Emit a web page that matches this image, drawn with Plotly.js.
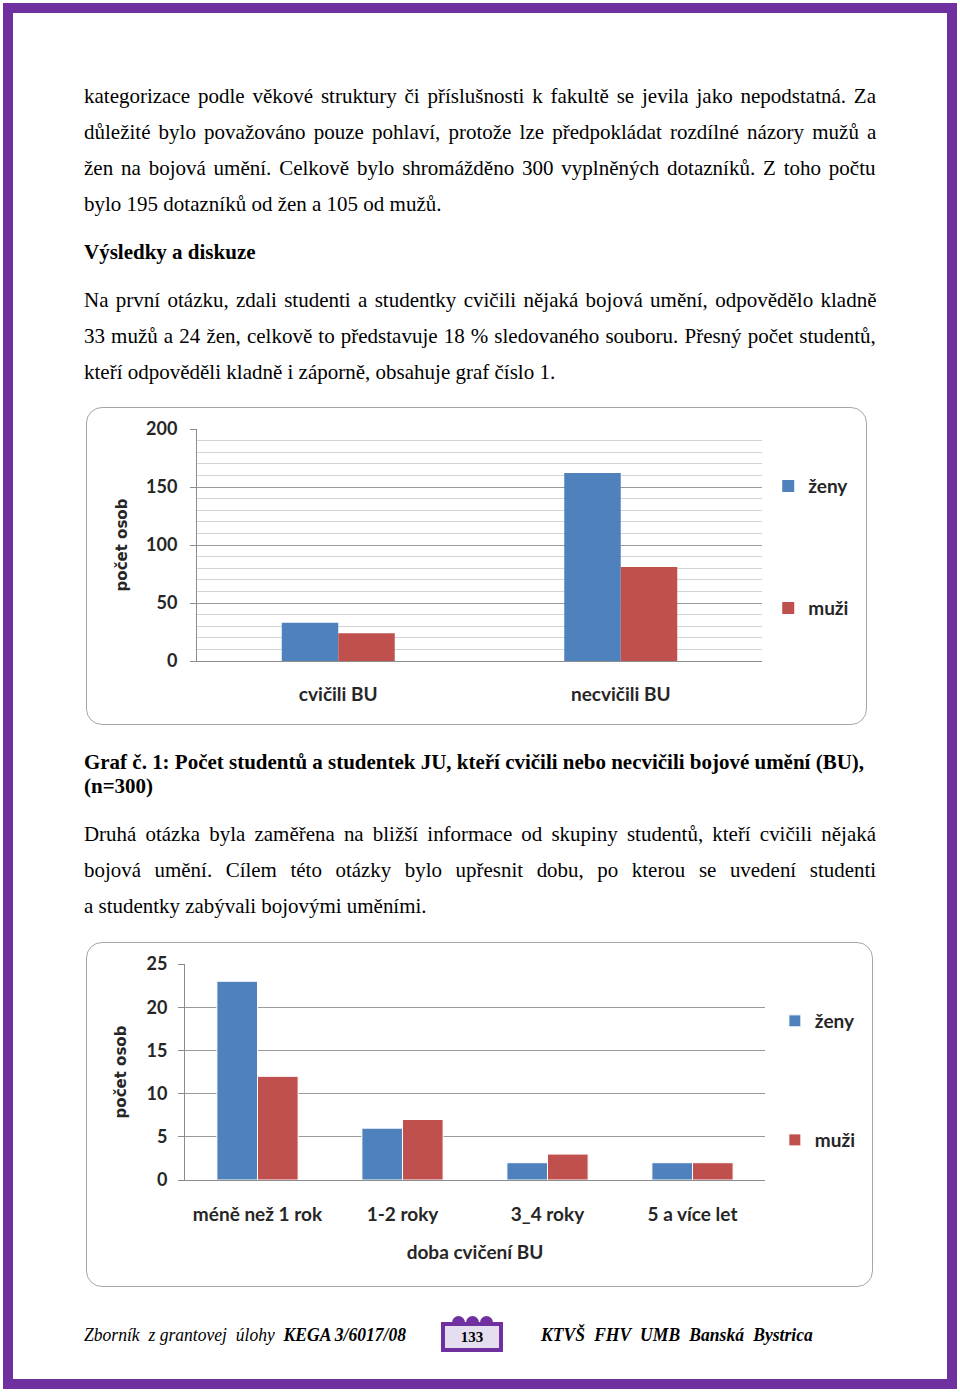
<!DOCTYPE html>
<html>
<head>
<meta charset="utf-8">
<script src="https://cdn.plot.ly/plotly-3.0.1.min.js"></script>
<style>
body { margin: 0; width: 960px; height: 1396px; position: relative; background: #fff; overflow: hidden; }
.frame { position: absolute; left: 3px; top: 3px; width: 954px; height: 1386px; box-sizing: border-box; border: 10px solid #7030a0; }
.ln { position: absolute; left: 84px; white-space: nowrap; font-family: "Liberation Serif", serif; font-size: 21px; line-height: 36px; height: 36px; color: #000; transform-origin: 0 50%; }
.b { font-weight: bold; }
.i { font-style: italic; }
.box { position: absolute; border: 1.5px solid #a6a6a6; border-radius: 16px; box-sizing: border-box; }
.plot { position: absolute; }
.pg { position: absolute; left: 441px; top: 1322px; width: 62px; height: 30px; box-sizing: border-box; border: 4px solid #7030a0; background: #e4def0; font: bold 15px "Liberation Serif", serif; text-align: center; line-height: 22px; }
.bump { position: absolute; top: 1316px; width: 13px; height: 13px; border-radius: 50%; background: #7030a0; }
</style>
</head>
<body>
<div class="frame"></div>

<div class="ln" style="top:78px" data-w="792" data-j="1">kategorizace podle věkové struktury či příslušnosti k fakultě se jevila jako nepodstatná. Za</div>
<div class="ln" style="top:114px" data-w="792" data-j="1">důležité bylo považováno pouze pohlaví, protože lze předpokládat rozdílné názory mužů a</div>
<div class="ln" style="top:150px" data-w="792" data-j="1">žen na bojová umění. Celkově bylo shromážděno 300 vyplněných dotazníků. Z toho počtu</div>
<div class="ln" style="top:186px">bylo 195 dotazníků od žen a 105 od mužů.</div>
<div class="ln b" style="top:234px">Výsledky a diskuze</div>
<div class="ln" style="top:282px" data-w="792" data-j="1">Na první otázku, zdali studenti a studentky cvičili nějaká bojová umění, odpovědělo kladně</div>
<div class="ln" style="top:318px" data-w="792" data-j="1">33 mužů a 24 žen, celkově to představuje 18 % sledovaného souboru. Přesný počet studentů,</div>
<div class="ln" style="top:354px">kteří odpověděli kladně i záporně, obsahuje graf číslo 1.</div>

<div class="box" style="left:86px;top:407px;width:781px;height:318px"></div>
<div id="chart1" class="plot" style="left:86px;top:407px"></div>

<div class="ln b" id="cap1" style="top:744px">Graf č. 1: Počet studentů a studentek JU, kteří cvičili nebo necvičili bojové umění (BU),</div>
<div class="ln b" id="cap2" style="top:768px">(n=300)</div>

<div class="ln" id="p2a" style="top:816px">Druhá otázka byla zaměřena na bližší informace od skupiny studentů, kteří cvičili nějaká</div>
<div class="ln" id="p2b" style="top:852px">bojová umění. Cílem této otázky bylo upřesnit dobu, po kterou se uvedení studenti</div>
<div class="ln" id="p2c" style="top:888px">a studentky zabývali bojovými uměními.</div>

<div class="box" style="left:86px;top:942px;width:787px;height:345px"></div>
<div id="chart2" class="plot" style="left:86px;top:942px"></div>

<div class="ln i" id="foot1" style="top:1317px;font-size:18px">Zborník&nbsp; z grantovej&nbsp; úlohy&nbsp; <b>KEGA 3/6017/08</b></div>
<div class="bump" style="left:452px"></div>
<div class="bump" style="left:466px"></div>
<div class="bump" style="left:480px"></div>
<div class="pg">133</div>
<div class="ln i b" id="foot2" style="top:1317px;left:541px;font-size:18px">KTVŠ FHV UMB Banská Bystrica</div>

<script>
// data
var cats1 = ['cvičili BU', 'necvičili BU'];
var zeny1 = [33, 162];
var muzi1 = [24, 81];
var ticks1 = [0, 50, 100, 150, 200];

var cats2 = ['méně než 1 rok', '1-2 roky', '3_4 roky', '5 a více let'];
var zeny2 = [23, 6, 2, 2];
var muzi2 = [12, 7, 3, 2];
var ticks2 = [0, 5, 10, 15, 20, 25];

var blue = '#4f81bd';
var red = '#c0504d';

// text lines: justify with word spacing, squeeze with scaleX where needed
function natural(el) {
  el.style.wordSpacing = '0px';
  el.style.transform = 'none';
  return el.offsetWidth;
}
function setLine(el, width, scale, justify) {
  var w = natural(el);
  var gaps = (el.textContent.match(/ /g) || []).length;
  if (justify && gaps) el.style.wordSpacing = ((width / scale - w) / gaps) + 'px';
  if (scale !== 1) el.style.transform = 'scaleX(' + scale + ')';
}
document.querySelectorAll('.ln[data-j]').forEach(function (el) {
  setLine(el, +el.dataset.w, 1, true);
});
var c1 = document.getElementById('cap1');
var sCap = 780 / natural(c1);
setLine(c1, 780, sCap, false);
setLine(document.getElementById('cap2'), 0, sCap, false);

var p2c = document.getElementById('p2c');
var sP2 = 343 / natural(p2c);
setLine(p2c, 343, sP2, false);
setLine(document.getElementById('p2a'), 792, sP2, true);
setLine(document.getElementById('p2b'), 792, sP2, true);

var f1 = document.getElementById('foot1');
var sF = 322 / natural(f1);
setLine(f1, 322, sF, false);
setLine(document.getElementById('foot2'), 272, sF, true);

// charts
var tickFont = {family: 'Lato', size: 18, color: '#262626', weight: 'bold'};
var catFont = {family: 'Lato', size: 19, color: '#262626', weight: 'bold'};
var titleFont = {family: 'DejaVu Sans', size: 15, color: '#262626', weight: 'bold'};
var config = {staticPlot: true, displayModeBar: false};

var data1 = [
  {x: cats1, y: zeny1, name: 'ženy', type: 'bar', marker: {color: blue}, legend: 'legend'},
  {x: cats1, y: muzi1, name: 'muži', type: 'bar', marker: {color: red}, legend: 'legend2'}
];
var layout1 = {
  width: 781, height: 318,
  margin: {l: 111, r: 105, t: 22, b: 64},
  paper_bgcolor: 'rgba(0,0,0,0)', plot_bgcolor: 'rgba(0,0,0,0)',
  barmode: 'group', bargap: 0.6, bargroupgap: 0,
  font: tickFont,
  xaxis: {type: 'category', showline: true, linecolor: '#8c8c8c', ticks: '', tickfont: catFont, ticklabelstandoff: 16},
  yaxis: {
    range: [0, 200], tickvals: ticks1, showline: true, linecolor: '#8c8c8c',
    ticks: 'outside', ticklen: 6, tickcolor: '#8c8c8c', tickfont: tickFont, ticklabelstandoff: 9,
    gridcolor: '#9a9a9a', zeroline: false,
    minor: {dtick: 10, showgrid: true, gridcolor: '#d3d3d3', ticks: ''},
    title: {text: 'počet osob', font: titleFont, standoff: 14}
  },
  showlegend: true,
  legend: {x: 1.011, y: 0.754, xanchor: 'left', yanchor: 'middle', font: catFont, bgcolor: 'rgba(0,0,0,0)'},
  legend2: {x: 1.011, y: 0.228, xanchor: 'left', yanchor: 'middle', font: catFont, bgcolor: 'rgba(0,0,0,0)'}
};
Plotly.newPlot('chart1', data1, layout1, config);

var data2 = [
  {x: cats2, y: zeny2, name: 'ženy', type: 'bar', marker: {color: blue, line: {color: '#fff', width: 1}}, legend: 'legend'},
  {x: cats2, y: muzi2, name: 'muži', type: 'bar', marker: {color: red, line: {color: '#fff', width: 1}}, legend: 'legend2'}
];
var layout2 = {
  width: 787, height: 345,
  margin: {l: 99, r: 105, t: 22, b: 107},
  paper_bgcolor: 'rgba(0,0,0,0)', plot_bgcolor: 'rgba(0,0,0,0)',
  barmode: 'group', bargap: 0.44, bargroupgap: 0,
  font: tickFont,
  xaxis: {
    type: 'category', showline: true, linecolor: '#8c8c8c', ticks: '', tickfont: catFont, ticklabelstandoff: 17,
    title: {text: 'doba cvičení BU', font: catFont, standoff: 21}
  },
  yaxis: {
    range: [0, 25], tickvals: ticks2, showline: true, linecolor: '#8c8c8c',
    ticks: 'outside', ticklen: 6, tickcolor: '#8c8c8c', tickfont: tickFont, ticklabelstandoff: 7,
    gridcolor: '#9a9a9a', zeroline: false,
    title: {text: 'počet osob', font: titleFont, standoff: 16}
  },
  showlegend: true,
  legend: {x: 1.017, y: 0.736, xanchor: 'left', yanchor: 'middle', font: catFont, bgcolor: 'rgba(0,0,0,0)'},
  legend2: {x: 1.017, y: 0.185, xanchor: 'left', yanchor: 'middle', font: catFont, bgcolor: 'rgba(0,0,0,0)'}
};
Plotly.newPlot('chart2', data2, layout2, config);
</script>
</body>
</html>
